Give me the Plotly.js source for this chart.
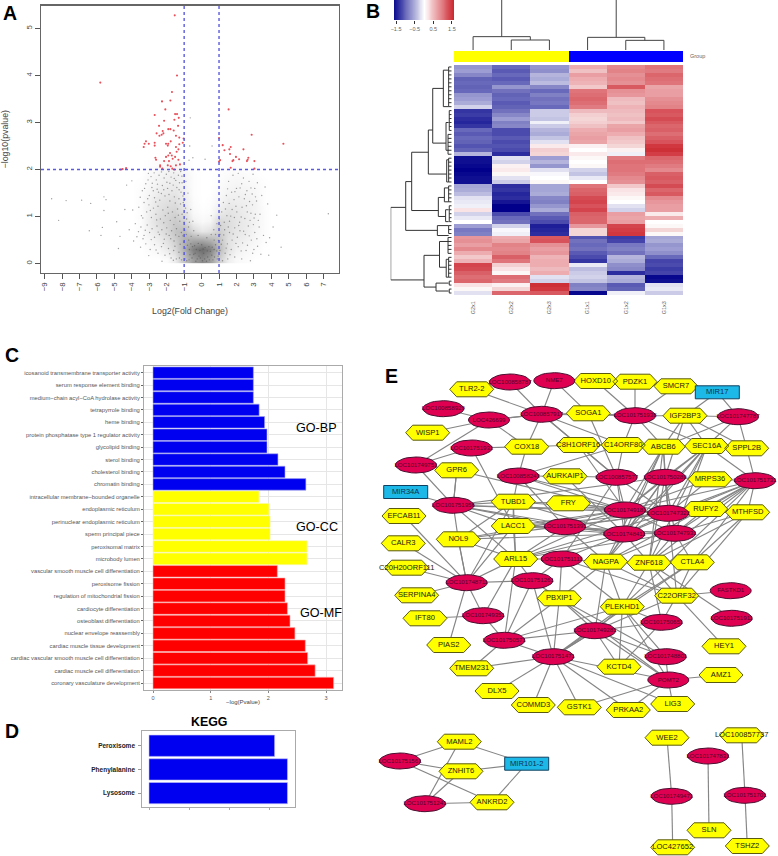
<!DOCTYPE html>
<html><head><meta charset="utf-8">
<script src="https://cdn.plot.ly/plotly-3.0.1.min.js"></script>
<style>html,body{margin:0;padding:0;background:#fff}</style></head>
<body><div id="chart" style="width:778px;height:856px"></div>
<script>
/* ---------- Panel A: volcano ---------- */
const redPts=[[-1.54,5.28],[-1.41,4.0],[-5.81,3.85],[-1.70,3.65],[-1.79,3.47],[-2.27,3.45],[-2.08,3.28],[1.55,3.28],[-2.69,3.16],[-1.52,3.18],[-1.41,3.18],[-1.31,3.10],[-1.56,3.06],[-2.15,3.04],[-2.44,2.93],[-1.35,2.93],[-1.91,2.86],[-1.79,2.86],[-1.60,2.83],[-2.23,2.82],[-2.58,2.77],[-2.19,2.77],[-2.29,2.74],[-2.42,2.72],[2.87,2.74],[-1.47,2.72],[-1.28,2.68],[-1.03,2.66],[1.0,2.67],[4.69,2.55],[-3.19,2.60],[-3.03,2.55],[-3.27,2.55],[-3.32,2.48],[-2.69,2.57],[-2.69,2.51],[-1.77,2.6],[-1.91,2.55],[-2.04,2.55],[-1.94,2.51],[-1.47,2.48],[-1.28,2.54],[-1.08,2.57],[-1.33,2.43],[-1.43,2.38],[1.21,2.52],[1.67,2.48],[1.59,2.43],[1.31,2.41],[2.40,2.43],[-1.81,2.35],[-1.91,2.30],[-1.71,2.30],[-2.04,2.27],[-1.52,2.27],[-1.33,2.21],[-1.66,2.23],[-2.65,2.25],[-2.61,2.21],[1.97,2.27],[2.15,2.22],[1.82,2.2],[1.77,2.18],[1.63,2.33],[1.06,2.2],[1.0,2.17],[2.68,2.25],[2.64,2.21],[2.60,2.18],[3.03,2.18],[-2.38,2.09],[-2.15,2.18],[-1.87,2.18],[-2.38,2.06],[-2.25,2.02],[-1.94,2.09],[-1.77,2.07],[-1.68,2.02],[-1.56,2.0],[-1.47,2.09],[-1.24,2.11],[1.67,2.04],[3.03,2.02],[-4.33,2.03],[-4.64,2.0],[-4.53,2.01]];
const grayPts=[[-8.6,1.38],[-7.77,1.34],[-8.2,.92],[-6.88,1.35],[-6.36,1.28],[-5.6,1.42],[-5.48,1.36],[-5.6,1.13],[-6.44,.7],[-5.69,.77],[-5.77,.6],[-4.77,.32],[-4.87,.89],[-4.3,1.67],[-4,1.76],[7.27,1.06],[4.31,1.03],[3.64,1.63],[3.79,1.27],[4.56,.35],[4.1,.78],[-3.05,1.92],[-2.9,1.85],[-2.72,1.93],[-2.6,1.78],[-2.44,1.88],[-2.3,1.95],[-2.15,1.82],[-2.02,1.9],[-1.88,1.96],[-1.75,1.84],[-1.6,1.93],[-1.48,1.77],[-1.33,1.88],[-1.2,1.96],[-1.12,1.72],[-3.4,1.55],[-3.2,1.7],[-3.0,1.45],[-2.85,1.62],[-2.7,1.4],[-2.55,1.58],[-2.4,1.35],[-2.25,1.66],[-2.1,1.44],[-1.95,1.6],[-1.82,1.33],[-1.7,1.55],[-1.56,1.42],[-1.42,1.62],[-1.3,1.38],[-1.18,1.52],[-1.05,1.3],[-.92,1.18],[-3.6,1.2],[-3.45,1.02],[-3.3,1.3],[-3.15,1.1],[-3.02,1.25],[-2.88,.98],[-2.76,1.18],[-2.62,1.05],[-2.5,1.22],[-2.36,.95],[-2.22,1.14],[-2.08,1.02],[-1.94,1.2],[-1.8,.92],[-1.67,1.1],[-1.52,.98],[-1.38,1.16],[-1.25,.9],[-1.12,1.05],[-1.0,.88],[-.86,.95],[-.75,.78],[-3.8,.85],[-3.62,.68],[-3.48,.78],[-3.3,.6],[-3.12,.82],[-2.98,.66],[-2.84,.74],[-2.7,.56],[-2.56,.8],[-2.42,.62],[-2.28,.72],[-2.14,.52],[-2,.76],[-1.86,.6],[-1.72,.7],[-1.58,.48],[-1.44,.74],[-1.3,.58],[-1.16,.66],[-1.02,.46],[-.88,.62],[-.74,.5],[-.6,.58],[-3.9,.48],[-3.5,.35],[-3.2,.42],[-2.95,.3],[-2.7,.4],[-2.5,.22],[-2.3,.36],[-2.1,.18],[-1.9,.32],[-1.75,.12],[-1.6,.28],[-1.45,.1],[-1.3,.24],[-1.15,.08],[-1.0,.2],[-.85,.06],[-.7,.3],[-.55,.12],[-.4,.38],[-.25,.1],[-.1,.28],[.05,.06],[.2,.34],[.35,.14],[.5,.26],[.65,.08],[.8,.4],[.95,.16],[-.62,.42],[-.45,.2],[-.3,.3],[-.15,.16],[0,.4],[.12,.22],[.28,.05],[.42,.36],[.58,.18],[.72,.3],[.9,.1],[1.05,.28],[1.2,.06],[1.35,.22],[1.5,.1],[1.7,.3],[1.9,.14],[2.1,.36],[2.3,.1],[2.55,.28],[2.8,.06],[3.0,.3],[3.4,.2],[3.7,.45],[1.05,.62],[1.2,.5],[1.32,.72],[1.48,.42],[1.6,.66],[1.75,.5],[1.9,.76],[2.05,.56],[2.2,.7],[2.35,.44],[2.5,.62],[2.68,.8],[2.85,.5],[3.05,.66],[3.3,.78],[3.55,.6],[1.02,.95],[1.15,1.1],[1.3,.88],[1.45,1.02],[1.6,.9],[1.75,1.15],[1.88,.98],[2.02,1.1],[2.18,.88],[2.32,1.2],[2.48,.96],[2.62,1.1],[2.78,.92],[2.92,1.25],[3.08,1.05],[3.25,.92],[1.25,1.3],[1.42,1.45],[1.58,1.28],[1.72,1.52],[1.86,1.36],[2.0,1.6],[2.14,1.42],[2.3,1.7],[2.45,1.38],[2.6,1.55],[2.75,1.32],[2.9,1.48],[3.05,1.6],[3.15,1.33],[1.55,1.75],[1.8,1.88],[2.1,1.92],[2.4,1.82],[2.72,1.75],[2.95,1.9],[3.2,1.72],[-.45,.7],[-.5,.9],[.7,.72],[.88,.85],[-.2,.6],[.3,.55],[.55,.62],[-.78,1.5],[-.9,1.75],[-.62,1.15],[.55,1.02],[.6,2.5],[-.72,2.2],[-.5,2.25],[-.65,3.1],[.2,2.22],[-.68,2.5],
[-2.83,1.71],[-2.47,1.52],[-1.99,1.73],[-1.63,1.67],[-1.29,1.57],[-1.07,1.44],[-3.09,1.38],[-2.63,1.31],[-2.31,1.49],[-1.87,1.47],[-1.51,1.29],[-1.21,1.27],[-3.37,.97],[-2.94,1.13],[-2.58,.93],[-2.17,.87],[-1.91,1.07],[-1.59,.83],[-1.33,1.03],[-.97,.71],[-3.71,.57],[-3.23,.71],[-2.89,.51],[-2.49,.67],[-2.03,.63],[-1.77,.53],[-1.49,.61],[-1.07,.59],[-.81,.39],[-3.03,.17],[-2.61,.29],[-2.19,.43],[-1.83,.21],[-1.53,.37],[-1.23,.41],[-.93,.33],[-.67,.19],[-.37,.22],[-.19,.43],[.09,.31],[.33,.27],[.61,.35],[.87,.27],[.97,.49],[1.13,.41],[1.41,.33],[1.63,.19],[1.97,.43],[2.27,.27],[2.63,.39],[2.93,.22],[3.21,.37],[1.09,.81],[1.27,.61],[1.53,.78],[1.81,.63],[2.13,.81],[2.41,.69],[2.73,.59],[2.97,.83],[3.17,.53],[1.37,1.16],[1.67,1.01],[1.97,1.22],[2.27,.99],[2.57,1.23],[2.83,1.07],[3.01,.97],[1.49,1.59],[1.91,1.53],[2.21,1.61],[2.51,1.47],[2.83,1.61],[3.09,1.42],[-3.52,1.41],[-3.27,1.6],[-3.07,1.78],[-2.77,1.55],[-2.53,1.69],[-2.17,1.57],[-1.82,1.71],[-1.57,1.81],[-1.27,1.72],[-1.13,1.86],[-.95,1.37],[-.83,1.08],[-.7,.88],[.72,.5],[.8,.62],[-.52,.36],[-.33,.05],[-.07,.12],[.17,.1],[.44,.08],[.74,.14],[1.02,.1],[-.95,.1],[-.72,.08],[-1.27,.12],[-1.62,.07],[-2.27,.05],[-3.36,.53],[-4.15,.72],[-3.95,1.14],[-4.4,1.15],[-4.68,.58],[3.9,.55],[3.35,1.05],[3.45,1.45],[3.85,.18]];
const densX=[-5,-4.5,-4,-3.5,-3,-2.5,-2,-1.5,-1,-.5,0,.5,1,1.5,2,2.5,3,3.5,4,4.5,5];
const densY=[.1,.3,.5,.7,.9,1.1,1.3,1.5,1.7,1.9,2.1];
const densZ=[
[0,0,0,0,0,0,.02,.1,.3,.5,.6,.5,.25,.08,.03,.02,0,0,0,0,0],
[0,0,0,0,.02,.04,.1,.2,.4,.65,.75,.65,.35,.15,.07,.04,.02,0,0,0,0],
[0,0,0,.01,.04,.08,.15,.25,.4,.45,.45,.4,.3,.15,.1,.07,.04,.01,0,0,0],
[0,0,0,.02,.07,.13,.2,.3,.35,.2,.12,.15,.25,.17,.12,.1,.05,.02,0,0,0],
[0,0,0,.02,.09,.17,.22,.27,.22,.07,.03,.05,.2,.17,.13,.1,.06,.02,0,0,0],
[0,0,0,.02,.08,.15,.2,.22,.15,.03,.01,.02,.1,.14,.12,.09,.06,.02,0,0,0],
[0,0,0,.02,.07,.13,.16,.17,.1,.02,0,.01,.05,.1,.09,.08,.06,.01,0,0,0],
[0,0,0,.02,.05,.1,.12,.13,.08,.01,0,0,.03,.06,.07,.06,.04,.01,0,0,0],
[0,0,0,.01,.04,.07,.09,.1,.06,.01,0,0,.02,.04,.05,.04,.03,.01,0,0,0],
[0,0,0,0,.03,.05,.07,.08,.05,.01,0,0,.01,.02,.03,.02,.01,0,0,0,0],
[0,0,0,0,.01,.02,.03,.04,.02,0,0,0,0,.01,.01,0,0,0,0,0,0]];
const volcanoTicksX=[-9,-8,-7,-6,-5,-4,-3,-2,-1,0,1,2,3,4,5,6,7];
const volcanoTicksY=[0,1,2,3,4,5];

/* ---------- Panel B: heat map ---------- */
const heatCols=["G2x1","G2x2","G2x3","G1x1","G1x2","G1x3"];
const heatRows=[
[-.7,-1.0,-.7,.6,.85,1.0],[-.65,-1.1,-.75,.45,.9,.95],[-.8,-1.0,-.5,.7,.8,1.1],[-1.05,-1.1,-.55,.6,.85,1.05],[-1.0,-1.0,-.45,.55,.8,1.0],[-1.05,-.7,-.8,.4,1.2,.65],[-1.0,-.95,-1.0,1.0,.8,.7],[-.7,-1.05,-.85,1.05,.75,.7],[-.65,-1.0,-.95,1.1,.5,.8],[-.55,-1.1,-.9,1.05,.45,.85],[-.3,-1.05,-1.0,.95,.55,.9],
[-1.35,-.95,-.35,.5,.5,1.25],[-1.3,-.8,-.35,.35,.45,1.2],[-1.4,-.65,-.4,.3,.5,1.3],[-1.45,-.85,-.1,.35,.4,1.2],[-1.35,-.8,-.35,.45,.65,1.1],[-1.0,-1.2,-.5,.6,.7,1.15],[-1.1,-1.2,-.55,.65,.6,1.05],[-1.0,-1.1,-.4,.7,.45,1.15],[-1.05,-1.2,-.2,.65,.4,1.25],[-1.15,-1.15,.15,.1,.3,1.45],[-1.05,-1.2,.35,0,.1,1.5],[-.5,-1.4,.3,.15,-.1,1.4],
[-1.6,-.2,-.65,.05,.95,1.1],[-1.6,-.3,-.5,0,1.05,1.05],[-1.65,.1,-.7,.05,1.0,.95],[-1.7,.15,-.2,-.3,1.0,.85],[-1.65,.05,-.05,-.4,.95,1.15],[-1.6,-.2,0,-.15,.85,1.2],[-1.6,-.35,.05,0,.8,1.15],
[-.6,-1.4,-.6,1.0,.4,1.3],[-.55,-1.35,-.6,1.1,.2,1.1],[-.45,-1.45,-.55,1.15,.15,1.2],[-.2,-1.4,-.8,1.3,.05,.85],[-.15,-1.55,-.85,1.35,0,.75],[-.1,-1.7,-.7,1.25,-.2,.7],[.2,-1.7,-.55,1.35,-.3,.7],[-.3,-1.2,-.95,1.15,.7,.15],[-.15,-1.0,-1.1,1.1,.65,.6],[0,-.95,-1.2,1.1,.7,0],[-.65,-.3,-1.5,.75,1.35,.05],[-.9,-.05,-1.45,.3,1.4,.3],[-.85,-.1,-1.4,.3,1.45,.05],
[.75,.6,1.2,-1.15,-1.3,-.6],[.8,.65,1.25,-.95,-1.25,-.55],[.7,.9,.8,-1.0,-.9,-.7],[.85,.85,.7,-.95,-.85,-.65],[.6,.9,.75,-1.1,-.95,-.75],[.4,1.15,.55,-1.2,-.5,-1.0],[.55,1.0,.6,-1.35,-.55,-1.25],[1.35,.35,.6,-.15,-.75,-1.2],[1.3,.2,.5,-.45,-.8,-1.3],[1.15,.05,.6,-.35,-1.4,-1.25],[1.05,1.05,-.2,-.3,-.5,-1.65],[1.1,.95,-.3,-.4,-.55,-1.6],[.2,.1,1.5,-.85,-1.1,-.2],[.05,.3,1.45,-.8,-1.05,-.15],[-.2,1.1,1.2,-1.65,-.1,-.35]];
const groupRow=[[0,0,0,1,1,1]];
const legendSteps=[-1.6,-1.4,-1.2,-1,-.8,-.6,-.4,-.2,0,.2,.4,.6,.8,1,1.2,1.4,1.6];
const legendTicks=[-1.5,-.5,.5,1.5];
/* merges: [height, pos1, childHeight1, pos2, childHeight2] */
const colMerges=[[.2,1,0,2,0],[.267,0,0,1.5,.2],[.193,4,0,5,0],[.253,3,0,4.5,.193]];
const colStems=[[.75,.267,1],[3.75,.253,1]];
const rowMerges=[[1,35.4,.754,53.7,.454],[.754,28.9,.656,41.2,.235],[.656,21.5,.383,36.2,.219],[.383,15.9,.311,27,.082],[.311,5.4,.137,19.2,.093],[.137,.8,.05,10,.05],[.093,14,.05,21,.05],[.082,23.4,.05,29,.05],[.219,32.9,.12,37.7,.1],[.12,30.5,.05,34,.05],[.1,36,.05,39,.05],[.235,40,.05,42.5,.05],[.454,47.5,.2,55.5,.257],[.2,44,.05,50.5,.09],[.09,48.5,.05,53,.05],[.257,54.5,.05,56.5,.05]];
const leafGroups=[[0,10,.05],[11,16,.04],[17,22,.06],[23,29,.05],[30,34,.05],[35,39,.04],[40,42,.05],[43,47,.06],[48,53,.05],[54,55,.04],[56,57,.04]];

/* ---------- Panel C: GO bars ---------- */
const bpTerms=["icosanoid transmembrane transporter activity","serum response element binding","medium−chain acyl−CoA hydrolase activity","tetrapyrrole binding","heme binding","protein phosphatase type 1 regulator activity","glycolipid binding","sterol binding","cholesterol binding","chromatin binding"];
const bpVals=[1.74,1.74,1.74,1.84,1.935,1.976,1.976,2.166,2.288,2.65];
const ccTerms=["intracellular membrane−bounded organelle","endoplasmic reticulum","perinuclear endoplasmic reticulum","sperm principal piece","peroxisomal matrix","microbody lumen"];
const ccVals=[1.837,2.01,2.03,2.03,2.67,2.67];
const mfTerms=["vascular smooth muscle cell differentiation","peroxisome fission","regulation of mitochondrial fission","cardiocyte differentiation","osteoblast differentiation","nuclear envelope reassembly","cardiac muscle tissue development","cardiac vascular smooth muscle cell differentiation","cardiac muscle cell differentiation","coronary vasculature development"];
const mfVals=[2.155,2.288,2.288,2.33,2.375,2.46,2.64,2.68,2.81,3.13];

/* ---------- Panel D: KEGG ---------- */
const keggTerms=["Peroxisome","Phenylalanine","Lysosome"];
const keggVals=[3.13,3.45,3.45];

/* ---------- Panel E: network ---------- */
const hexNodes=[["TLR2-2",471.7,389.3],["HOXD10",595.7,381],["PDZK1",635,381.7],["SMCR7",676,386.3],["SOGA1",588.3,413.3],["IGF2BP3",685,415.7],["WISP1",427.7,432.7],["COX18",526.7,446.7],["C8H1ORF16",578.3,445],["C14ORF80",623.3,445],["ABCB6",663.3,446.7],["SEC16A",706.7,446],["SPPL2B",746.7,448.3],["GPR6",456.7,470.3],["AURKAIP1",565,476.3],["MRPS36",710,479.3],["TUBD1",513.3,501.7],["FRY",568.3,503.3],["RUFY2",705.7,509],["MTHFSD",747.7,512.3],["EFCAB11",404,516],["LACC1",513.3,526],["NOL9",458.3,539.3],["CALR3",403.3,543.3],["ARL15",515.7,559],["NAGPA",605.7,561.7],["ZNF618",649,562.7],["CTLA4",692.3,562.3],["C20H20ORF111",406.7,567.7],["SERPINA4",416.7,595.3],["PBXIP1",559.3,598.3],["C22ORF32",676.7,595.7],["PLEKHD1",622.3,606.7],["IFT80",425,618.3],["PIAS2",448.7,645],["HEY1",724,646.3],["TMEM231",471.7,668.3],["KCTD4",619,666.7],["AMZ1",721,675],["DLX5",497,691],["COMMD3",533.3,705],["GSTK1",579.3,707.3],["PRKAA2",628.3,710],["LIG3",672.7,704],["MAML2",459.3,741.7],["ZNHIT6",461,771.3],["ANKRD2",492,802.3],["WEE2",667,737.7],["LOC100857737",741.7,735.3],["SLN",709,830.3],["LOC427652",672.7,847.3],["TSHZ2",747.3,846]];
const ellNodes=[["LOC100858787",510,382],["NME7",554.3,380.7],["LOC100858929",443.3,408.7],["LOC426699",489,420],["LOC100857917",541.7,414.3],["LOC101751938",635,415.7],["LOC101747787",738,416.7],["LOC101751931",471.7,448],["LOC101749751",416,465],["LOC100858243",518.3,476],["LOC100857577",616.7,477.3],["LOC101750289",665,477.3],["LOC101751731",755,480.7],["LOC101751956",453.3,505.3],["LOC101749181",625,510],["LOC101747322",668.3,513.3],["LOC101751391",565,526.7],["LOC101748411",624.3,534],["LOC101747931",675,533.3],["LOC101751111",561.7,559],["LOC101748711",466.7,582.7],["LOC101751261",532.3,580.7],["FASTKD1",730.7,590.7],["LOC101749351",483.3,615.7],["LOC101750651",661.7,622.3],["LOC101751911",731.7,618.3],["LOC101749281",595,630.7],["LOC101750571",504.3,640.3],["LOC101751471",553.3,656.7],["LOC101748801",665.7,656.7],["POMT2",668.3,680],["LOC101751561",400,761],["LOC101751241",425,803.7],["LOC101747831",708,756],["LOC101749471",671.7,796.3],["LOC101751701",745,795.3]];
const rectNodes=[["MIR17",717.3,392.3],["MIR34A",405.7,492],["MIR101-2",526.7,763.7]];
const edgeList="TLR2-2|857917 858787|857917 NME7|857917 NME7|SOGA1 HOXD10|751938 PDZK1|751938 SMCR7|751938 MIR17|IGF2BP3 MIR17|747787 858929|426699 426699|857917 426699|857917 WISP1|426699 426699|COX18 749751|426699 857917|751938 857917|SOGA1 857917|COX18 857917|C8H1ORF16 857917|C14ORF80 857917|857577 SOGA1|751938 SOGA1|857577 751938|IGF2BP3 751938|ABCB6 751938|C14ORF80 751938|SEC16A IGF2BP3|747787 IGF2BP3|ABCB6 IGF2BP3|SEC16A IGF2BP3|SPPL2B IGF2BP3|750289 747787|SPPL2B 747787|ABCB6 747787|SEC16A 751931|COX18 751931|749751 749751|751956 751931|LACC1 COX18|C8H1ORF16 COX18|858243 C8H1ORF16|C14ORF80 C8H1ORF16|857577 C8H1ORF16|749181 C14ORF80|ABCB6 C14ORF80|857577 C14ORF80|858243 ABCB6|SEC16A ABCB6|750289 ABCB6|749181 ABCB6|747322 ABCB6|748411 SEC16A|SPPL2B SEC16A|750289 SEC16A|747322 SEC16A|749181 SEC16A|751731 SEC16A|748411 SEC16A|747931 SPPL2B|751731 749751|GPR6 GPR6|751956 GPR6|751956 GPR6|749181 858243|AURKAIP1 858243|749181 858243|747322 858243|TUBD1 858243|751391 AURKAIP1|857577 AURKAIP1|748411 857577|749181 857577|747322 857577|748411 857577|751111 750289|MRPS36 750289|749181 750289|747322 750289|748411 750289|747931 750289|NAGPA MRPS36|751731 MRPS36|747322 MRPS36|749181 751731|RUFY2 751731|MTHFSD 751731|747322 751731|747931 751731|749181 751731|748411 751731|ZNF618 751731|CTLA4 MIR34A|751956 751956|TUBD1 751956|LACC1 751956|749181 751956|750289 751956|NOL9 751956|ARL15 751956|751391 TUBD1|FRY TUBD1|LACC1 TUBD1|NOL9 TUBD1|ARL15 TUBD1|749181 TUBD1|748711 FRY|749181 FRY|747322 749181|747322 749181|748411 749181|747931 747322|RUFY2 747322|MTHFSD 747322|748411 RUFY2|747931 MTHFSD|747931 MTHFSD|CTLA4 MTHFSD|C22ORF32 EFCAB11|748711 LACC1|751391 LACC1|751391 LACC1|748711 LACC1|ARL15 LACC1|748411 LACC1|749181 751391|748411 751391|749181 751391|747322 751391|747931 751391|ARL15 751391|NAGPA 748411|747931 748411|NOL9 748411|ARL15 748411|751111 748411|NAGPA 748411|ZNF618 747931|ZNF618 747931|CTLA4 747931|NAGPA NOL9|748711 NOL9|748711 NOL9|ARL15 NOL9|749181 CALR3|748711 C20H20ORF111|748711 SERPINA4|748711 IFT80|749351 PIAS2|748711 ARL15|748711 ARL15|751261 ARL15|749351 ARL15|750571 ARL15|751111 ARL15|749181 751111|NAGPA 751111|PBXIP1 751111|PLEKHD1 751111|751261 751111|C22ORF32 NAGPA|ZNF618 NAGPA|PLEKHD1 NAGPA|PBXIP1 NAGPA|749281 NAGPA|C22ORF32 ZNF618|CTLA4 ZNF618|C22ORF32 ZNF618|PLEKHD1 ZNF618|750651 ZNF618|751911 CTLA4|C22ORF32 CTLA4|751471 CTLA4|PLEKHD1 748711|751261 748711|749351 751261|PBXIP1 751261|751471 751261|750571 PBXIP1|749281 PBXIP1|750571 PBXIP1|751471 PBXIP1|748801 PBXIP1|POMT2 C22ORF32|FASTKD1 C22ORF32|HEY1 C22ORF32|750651 C22ORF32|749281 PLEKHD1|749281 PLEKHD1|KCTD4 PLEKHD1|748801 PLEKHD1|751471 PLEKHD1|750571 PLEKHD1|POMT2 PLEKHD1|750651 749281|750571 749281|751471 749281|751471 749281|750651 749281|748801 749281|POMT2 749281|KCTD4 750571|751471 750571|TMEM231 750571|749351 751471|TMEM231 751471|DLX5 751471|COMMD3 751471|GSTK1 751471|PRKAA2 751471|LIG3 751471|POMT2 748801|POMT2 750651|KCTD4 POMT2|AMZ1 POMT2|GSTK1 POMT2|PRKAA2 POMT2|LIG3 751561|MAML2 751561|ZNHIT6 751561|ANKRD2 MAML2|MIR101-2 ZNHIT6|MIR101-2 ANKRD2|MIR101-2 MAML2|751241 ZNHIT6|751241 751241|ANKRD2 WEE2|749471 749471|427652 747831|SLN 857737|751701 751701|TSHZ2 748411|TUBD1 747322|LACC1 747322|ARL15 747931|ARL15 747931|LACC1 747322|NOL9 751956|748411 751956|747322 MTHFSD|ZNF618 751731|NAGPA 751731|PLEKHD1 SEC16A|NAGPA SEC16A|ZNF618 ABCB6|ZNF618 ABCB6|NAGPA 750289|ZNF618 750289|C22ORF32".split(" ");

/* ---------- helpers ---------- */
const W=778,H=856;
const dx=(l,r)=>[l/W,r/W], dy=(t,b)=>[1-b/H,1-t/H];
const col=(a,i)=>a.map(p=>p[i]);
const FONT="Liberation Sans, Arial, sans-serif";
const heatScale=[[0,"#00008b"],[.5,"#ffffff"],[1,"#c8141e"]];
const hidden={visible:false,fixedrange:true};

/* dendrogram polylines */
function dendro(merges,horizontalRoot){
  const a=[],b=[];
  merges.forEach(m=>{a.push(m[2],m[0],m[0],m[4],null);b.push(m[1],m[1],m[3],m[3],null);});
  return horizontalRoot?{x:b,y:a}:{x:a,y:b};
}
const cd=dendro(colMerges,true);
colStems.forEach(s=>{cd.x.push(s[0],s[0],null);cd.y.push(s[1],s[2],null);});
const rd=dendro(rowMerges,false);
leafGroups.forEach(g=>{
  rd.x.push(g[2],g[2],null);rd.y.push(g[0],g[1],null);
  for(let r=g[0];r<=g[1];r++){rd.x.push(g[2],0,null);rd.y.push(r,r,null);}
});

/* network geometry */
const allNodes={};
[...hexNodes,...ellNodes,...rectNodes].forEach(n=>allNodes[n[0]]=n);
const lookup=k=>{const key=Object.keys(allNodes).find(l=>l===k||l.endsWith(k));return allNodes[key];};
const ex=[],ey=[];
edgeList.forEach(e=>{const [a,b]=e.split("|").map(lookup);if(a&&b){ex.push(a[1],b[1],null);ey.push(a[2],b[2],null);}});
const hexShape=[[-22,0],[-15,-7.5],[15,-7.5],[22,0],[15,7.5],[-15,7.5],[-22,0]];
const ellShape=[];for(let i=0;i<=28;i++){const t=i/28*2*Math.PI;ellShape.push([20.5*Math.cos(t),8*Math.sin(t)]);}
const rectShape=[[-22,-6.5],[22,-6.5],[22,6.5],[-22,6.5],[-22,-6.5]];
function outlines(nodes,shape){const x=[],y=[];nodes.forEach(n=>{shape.forEach(s=>{x.push(n[1]+s[0]);y.push(n[2]+s[1]);});x.push(null);y.push(null);});return{x,y};}
const hx=outlines(hexNodes,hexShape),el=outlines(ellNodes,ellShape),rc=outlines(rectNodes,rectShape);
const poly=(g,fill,line)=>({type:"scatter",mode:"lines",x:g.x,y:g.y,xaxis:"x9",yaxis:"y9",fill:"toself",fillcolor:fill,line:{color:line,width:1},hoverinfo:"skip",showlegend:false});
const txt=(nodes,size,color)=>({type:"scatter",mode:"text",x:col(nodes,1),y:col(nodes,2),text:col(nodes,0),xaxis:"x9",yaxis:"y9",textposition:"middle center",textfont:{size,color,family:FONT},hoverinfo:"skip",showlegend:false});

const grayAxisLine={showline:true,mirror:true,linecolor:"#aaaaaa",linewidth:1};

const data=[
 /* A */
 {type:"heatmap",x:densX,y:densY,z:densZ,zmin:0,zmax:1,zsmooth:"best",showscale:false,colorscale:[[0,"#ffffff"],[1,"#3c3c3c"]],xaxis:"x",yaxis:"y",hoverinfo:"skip"},
 {type:"scatter",mode:"markers",x:col(grayPts,0),y:col(grayPts,1),marker:{size:1.4,color:"rgba(80,80,80,.55)"},xaxis:"x",yaxis:"y",showlegend:false},
 {type:"scatter",mode:"markers",x:col(redPts,0),y:col(redPts,1),marker:{size:2.1,color:"#e8505a"},xaxis:"x",yaxis:"y",showlegend:false},
 {type:"scatter",mode:"lines",x:[-9.21,7.88,null,-1,-1,null,1,1],y:[2,2,null,-.2,5.49,null,-.2,5.49],line:{color:"#5a5ae0",width:1.4,dash:"dot"},xaxis:"x",yaxis:"y",showlegend:false,hoverinfo:"skip"},
 /* B */
 {type:"heatmap",z:heatRows,x:[0,1,2,3,4,5],y:heatRows.map((_,i)=>i),zmin:-1.7,zmax:1.7,colorscale:heatScale,showscale:false,xaxis:"x2",yaxis:"y2"},
 {type:"scatter",mode:"lines",x:cd.x,y:cd.y,line:{color:"#444",width:1},xaxis:"x3",yaxis:"y3",showlegend:false,hoverinfo:"skip"},
 {type:"scatter",mode:"lines",x:rd.x,y:rd.y,line:{color:"#333",width:1},xaxis:"x4",yaxis:"y4",showlegend:false,hoverinfo:"skip"},
 {type:"heatmap",z:groupRow,x:[0,1,2,3,4,5],y:[0],zmin:0,zmax:1,colorscale:[[0,"#ffff00"],[1,"#0000ff"]],showscale:false,xaxis:"x5",yaxis:"y5",hoverinfo:"skip"},
 {type:"heatmap",z:[legendSteps],x:legendSteps,y:[0],zmin:-1.7,zmax:1.7,zsmooth:"best",colorscale:heatScale,showscale:false,xaxis:"x6",yaxis:"y6",hoverinfo:"skip"},
 /* C */
 {type:"bar",orientation:"h",y:bpTerms,x:bpVals,width:.93,marker:{color:"#0000f0",line:{color:"#a8a8f0",width:.6}},xaxis:"x7",yaxis:"y7",showlegend:false},
 {type:"bar",orientation:"h",y:ccTerms,x:ccVals,width:.93,marker:{color:"#ffff00",line:{color:"#f8f8b0",width:.6}},xaxis:"x7",yaxis:"y7",showlegend:false},
 {type:"bar",orientation:"h",y:mfTerms,x:mfVals,width:.93,marker:{color:"#ff0000",line:{color:"#f8b0b0",width:.6}},xaxis:"x7",yaxis:"y7",showlegend:false},
 /* D */
 {type:"bar",orientation:"h",y:keggTerms,x:keggVals,width:.9,marker:{color:"#0000f0",line:{color:"#c0c0f8",width:.6}},xaxis:"x8",yaxis:"y8",showlegend:false},
 /* E */
 {type:"scatter",mode:"lines",x:ex,y:ey,line:{color:"#858585",width:1.15},xaxis:"x9",yaxis:"y9",showlegend:false,hoverinfo:"skip"},
 poly(hx,"#ffff00","#5a5a10"),poly(el,"#e00052","#4a1030"),poly(rc,"#1cb8e8","#104060"),
 txt(hexNodes,7.6,"#222200"),txt(ellNodes,6.1,"#50002a"),txt(rectNodes,7.6,"#0c3050")
];

const ann=(text,x,y,size,extra)=>Object.assign({xref:"paper",yref:"paper",x:x/W,y:1-y/H,text,showarrow:false,xanchor:"center",yanchor:"middle",font:{size,family:FONT,color:"#000"}},extra||{});

const layout={
 width:W,height:H,margin:{l:0,r:0,t:0,b:0},autosize:false,paper_bgcolor:"#fff",plot_bgcolor:"rgba(0,0,0,0)",showlegend:false,hovermode:false,font:{family:FONT},
 /* A */
 xaxis:{domain:dx(41,339),range:[-9.21,7.88],anchor:"y",tickvals:volcanoTicksX,tickangle:-90,ticks:"outside",ticklen:5,tickcolor:"#555",tickfont:{size:7.8,color:"#444"},showgrid:false,zeroline:false,showline:true,mirror:true,linecolor:"#666",linewidth:1.2,title:{text:"Log2(Fold Change)",font:{size:8.8,color:"#444"},standoff:17}},
 yaxis:{domain:dy(5.5,273),range:[-.2,5.49],anchor:"x",tickvals:volcanoTicksY,tickangle:-90,ticks:"outside",ticklen:5,tickcolor:"#555",tickfont:{size:7.8,color:"#444"},showgrid:false,zeroline:false,showline:true,mirror:true,linecolor:"#666",linewidth:1.2,title:{text:"−log10(pvalue)",font:{size:8.8,color:"#444"},standoff:14}},
 /* B */
 xaxis2:{domain:dx(454,683),range:[-.5,5.5],anchor:"y2",tickvals:[0,1,2,3,4,5],ticktext:heatCols,tickangle:-90,ticks:"",ticklabelstandoff:4,tickfont:{size:5.5,color:"#666"},showgrid:false,zeroline:false},
 yaxis2:Object.assign({domain:dy(65,295),range:[57.5,-.5],anchor:"x2"},hidden),
 xaxis3:Object.assign({domain:dx(454,683),range:[-.5,5.5],anchor:"y3"},hidden),
 yaxis3:Object.assign({domain:dy(0,50),range:[0,1],anchor:"x3"},hidden),
 xaxis4:Object.assign({domain:dx(390.7,451.7),range:[1,0],anchor:"y4"},hidden),
 yaxis4:Object.assign({domain:dy(65,295),range:[57.5,-.5],anchor:"x4"},hidden),
 xaxis5:Object.assign({domain:dx(454,683),range:[-.5,5.5],anchor:"y5"},hidden),
 yaxis5:Object.assign({domain:dy(51,62),range:[-.5,.5],anchor:"x5"},hidden),
 xaxis6:{domain:dx(394,454),range:[-1.61,1.61],anchor:"y6",tickvals:legendTicks,ticks:"outside",ticklen:3,tickcolor:"#333",tickfont:{size:5.5,color:"#666"},showgrid:false,zeroline:false,showline:false},
 yaxis6:Object.assign({domain:dy(0,20),range:[-.5,.5],anchor:"x6"},hidden),
 /* C */
 xaxis7:Object.assign({domain:dx(144,342),range:[-.156,3.276],anchor:"y7",tickvals:[0,1,2,3],ticks:"outside",ticklen:2,tickcolor:"#888",tickfont:{size:5.5,color:"#555"},showgrid:true,gridcolor:"#e6e6e6",gridwidth:1,zeroline:false,title:{text:"−log(Pvalue)",font:{size:6,color:"#444"},standoff:0}},grayAxisLine),
 yaxis7:Object.assign({domain:dy(365.7,690),type:"category",categoryorder:"array",categoryarray:[...bpTerms,...ccTerms,...mfTerms],range:[25.56,-.56],anchor:"x7",ticks:"outside",ticklen:2,tickcolor:"#666",tickfont:{size:5.8,color:"#555"},showgrid:true,gridcolor:"#e6e6e6",zeroline:false},grayAxisLine),
 /* D */
 xaxis8:Object.assign({domain:dx(142.3,294.7),range:[-.167,3.63],anchor:"y8",tickvals:[0,1,2,3],ticks:"outside",ticklen:1.5,tickcolor:"#aaa",showticklabels:false,showgrid:false,zeroline:false},grayAxisLine),
 yaxis8:Object.assign({domain:dy(731.3,807.3),type:"category",categoryorder:"array",categoryarray:keggTerms,range:[2.6,-.61],anchor:"x8",ticks:"outside",ticklen:3,tickcolor:"#999",ticklabelstandoff:2,tickfont:{size:6.5,color:"#222",weight:700},showgrid:false,zeroline:false},grayAxisLine),
 /* E */
 xaxis9:Object.assign({domain:[0,1],range:[0,W],anchor:"y9"},hidden),
 yaxis9:Object.assign({domain:[0,1],range:[H,0],anchor:"x9"},hidden),
 annotations:[
  ann("A",10.3,12.7,19.5,{font:{size:19.5,family:FONT,color:"#000",weight:700}}),
  ann("B",373,11,19.5,{font:{size:19.5,family:FONT,color:"#000",weight:700}}),
  ann("C",12,355,19.5,{font:{size:19.5,family:FONT,color:"#000",weight:700}}),
  ann("D",12,731,19.5,{font:{size:19.5,family:FONT,color:"#000",weight:700}}),
  ann("E",391.7,375.7,19.5,{font:{size:19.5,family:FONT,color:"#000",weight:700}}),
  ann("Group",697,56.5,5.5,{font:{size:5.5,family:FONT,color:"#666"}}),
  ann("GO-BP",316.8,427.7,12.6),
  ann("GO-CC",316.8,526.7,12.6),
  ann("GO-MF",320.8,613.3,12.6),
  ann("KEGG",209.3,721.7,12.4,{font:{size:12.4,family:FONT,color:"#000",weight:700}})
 ]
};
Plotly.newPlot("chart",data,layout,{displayModeBar:false,staticPlot:true,responsive:false});
</script></body></html>
